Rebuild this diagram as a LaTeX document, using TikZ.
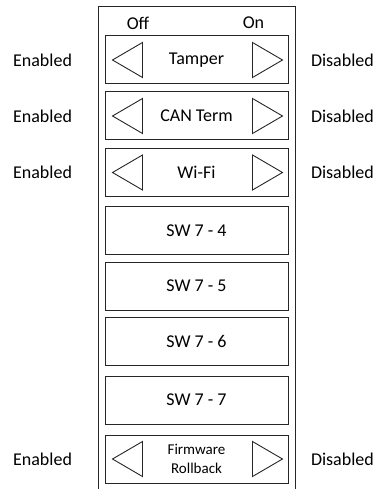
\documentclass[tikz,border=0pt]{standalone}
\usepackage{fontspec}
\setmainfont{Carlito}
\usepackage{tikz}
\usetikzlibrary{calc,positioning}
\tikzset{%
	switchbox/.style = {draw, rectangle, minimum width=183pt, minimum height=48pt, inner sep=0pt, text centered, font=\fontsize{18}{20}\selectfont},
	label/.style     = {inner sep=0pt, font=\fontsize{18}{20}\selectfont},
	tri/.style       = {draw, line width=0.9pt, line join=miter},
}
\begin{document}
\begin{tikzpicture}[x=1pt,y=-1pt,line width=1pt,draw=black!85]
	\useasboundingbox (0,0) rectangle (376,489); % keep margins
	\draw (98,489) -- (98,7) -- (295,7) -- (295,489); % frame, open at the bottom
	\node[label] (off) at (138,23) {Off};
	\node[label] (on) at (253.5,23) {On};
	% the switches
	\node[switchbox] (tamper) at (196.5,60) {Tamper};
	\node[switchbox] (canterm) at (196.5,116) {CAN Term};
	\node[switchbox] (wifi) at (196.5,172.5) {Wi-Fi};
	\node[switchbox] (sw4) at (196.5,230.5) {SW 7 - 4};
	\node[switchbox] (sw5) at (196.5,286) {SW 7 - 5};
	\node[switchbox] (sw6) at (196.5,341.5) {SW 7 - 6};
	\node[switchbox] (sw7) at (196.5,400) {SW 7 - 7};
	\node[switchbox, align=center, font=\fontsize{15}{19}\selectfont] (rollback) at (196.5,459) {Firmware\\Rollback};
	% arrows and side labels
	\foreach \sw in {tamper,canterm,wifi,rollback}{
		\draw[tri] ([xshift=8pt]\sw.west) -- ++(30,-17.5) -- ++(0,35) -- cycle;
		\draw[tri] ([xshift=-6pt]\sw.east) -- ++(-30,-17.5) -- ++(0,35) -- cycle;
		\node[label, left=32pt of \sw] (\sw-en) {Enabled};
		\node[label, right=22pt of \sw] (\sw-dis) {Disabled};
	}
\end{tikzpicture}
\end{document}
